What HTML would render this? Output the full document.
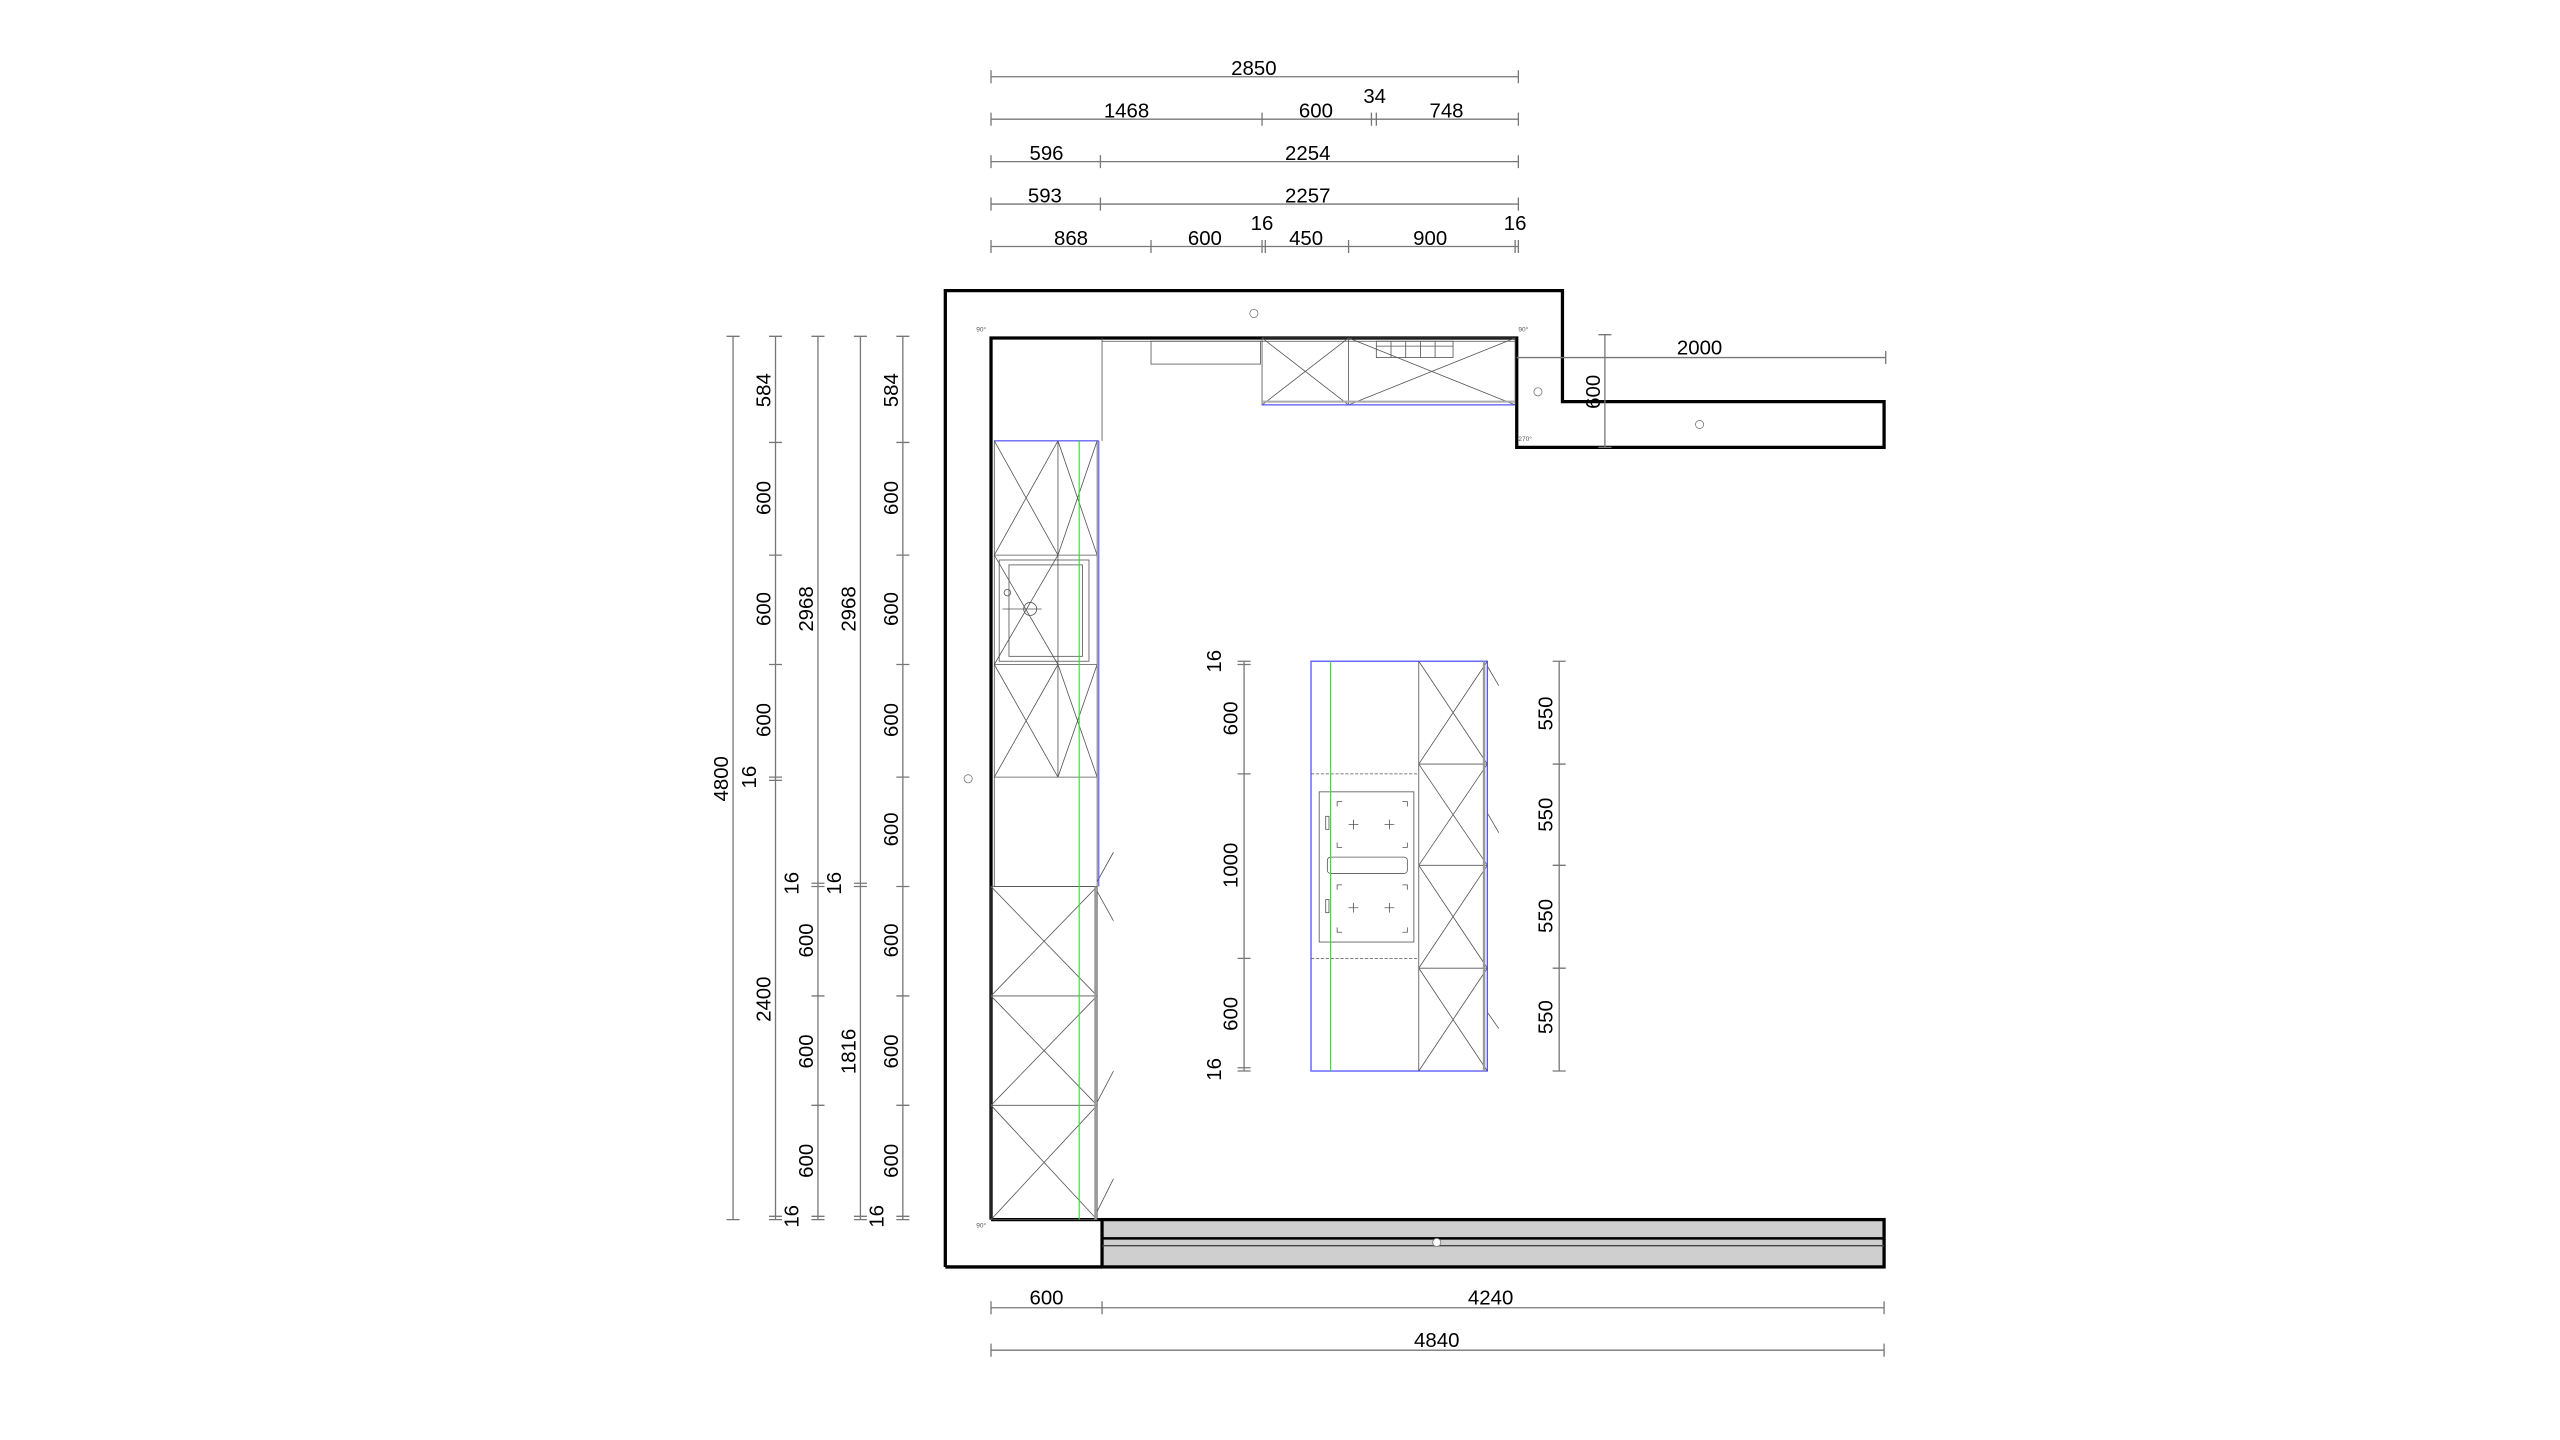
<!DOCTYPE html>
<html><head><meta charset="utf-8"><style>
html,body{margin:0;padding:0;background:#fff;}
svg{display:block;}
text{font-family:"Liberation Sans",sans-serif;font-size:12.5px;fill:#000;}
.d{stroke:#777;stroke-width:0.8;fill:none;}
.c{stroke:#555;stroke-width:0.5;fill:none;}
.w{stroke:#000;stroke-width:2;fill:none;}
text.s{font-size:4px;fill:#555;}
</style></head><body>
<svg width="2560" height="1440" viewBox="0 0 1568 882" xmlns="http://www.w3.org/2000/svg">
<rect width="1568" height="882" fill="#fff"/>
<!-- top dims -->
<g class="d">
<line x1="607" y1="47" x2="930" y2="47"/><line x1="607" y1="43" x2="607" y2="51"/><line x1="930" y1="43" x2="930" y2="51"/>
<line x1="607" y1="73" x2="930" y2="73"/>
<path d="M607 69v8M773 69v8M840 69v8M843 69v8M930 69v8"/>
<line x1="607" y1="99" x2="930" y2="99"/><path d="M607 95v8M674 95v8M930 95v8"/>
<line x1="607" y1="125" x2="930" y2="125"/><path d="M607 121v8M674 121v8M930 121v8"/>
<line x1="607" y1="151" x2="930" y2="151"/><path d="M607 147v8M705 147v8M773 147v8M775 147v8M826 147v8M928 147v8M930 147v8"/>
</g>
<g text-anchor="middle">
<text x="768" y="46">2850</text>
<text x="690" y="72">1468</text><text x="806" y="72">600</text><text x="842" y="63">34</text><text x="886" y="72">748</text>
<text x="641" y="98">596</text><text x="801" y="98">2254</text>
<text x="640" y="124">593</text><text x="801" y="124">2257</text>
<text x="656" y="150">868</text><text x="738" y="150">600</text><text x="773" y="141">16</text><text x="800" y="150">450</text><text x="876" y="150">900</text><text x="928" y="141">16</text>
</g>
<!-- walls -->
<polyline class="w" points="579,776 579,178 957,178 957,246 1154,246 1154,274 929,274 929,207 607,207 607,747"/>
<line class="w" x1="579" y1="776" x2="675" y2="776"/>
<rect x="675" y="747" width="479" height="29" fill="#cfcfcf" stroke="#000" stroke-width="2"/>
<line x1="675" y1="758.5" x2="1154" y2="758.5" stroke="#000" stroke-width="1.5"/>
<line x1="675" y1="763" x2="1154" y2="763" stroke="#444" stroke-width="0.8"/>
<line class="w" x1="607" y1="747" x2="675" y2="747"/>
<!-- left column -->
<g class="c">
<line x1="675" y1="207" x2="675" y2="270"/>
<rect x="609" y="270" width="63" height="273"/>
<line x1="648" y1="270" x2="648" y2="476"/>
<path d="M609 340H672M609 407H672M609 476H672"/>
<path d="M609 270L648 340M648 270L609 340M648 270L672 340M672 270L648 340"/>
<path d="M609 407L648 476M648 407L609 476M648 407L672 476M672 407L648 476"/>
<rect x="612" y="343" width="55" height="62"/><rect x="618" y="346" width="45" height="56"/>
<circle cx="631" cy="373" r="4"/><path d="M614 373h24"/><circle cx="617" cy="363" r="2"/>
<path d="M609 340L648 407M648 340L609 407"/>
<rect x="607" y="543" width="65" height="204"/>
<path d="M607 610H672M607 677H672"/>
<path d="M607 543L672 610M672 543L607 610M607 610L672 677M672 610L607 677M607 677L672 747M672 677L607 747"/>
<path d="M672 540L682 522M672 546L682 564M672 675L682 656M672 742L682 722"/>
</g>
<line x1="673" y1="270" x2="673" y2="543" stroke="#55f" stroke-width="0.7"/>
<line x1="609" y1="270" x2="673" y2="270" stroke="#55f" stroke-width="0.7"/>
<line x1="661" y1="270" x2="661" y2="747" stroke="#3d3" stroke-width="0.7"/>
<line x1="671" y1="543" x2="671" y2="747" stroke="#999" stroke-width="1.5"/>
<!-- top cabinets -->
<g class="c">
<line x1="675" y1="209" x2="928" y2="209"/>
<rect x="705" y="209" width="67" height="14"/>
<rect x="773" y="207" width="155" height="41"/>
<line x1="826" y1="207" x2="826" y2="248"/>
<path d="M773 207L826 248M826 207L773 248M826 207L928 248M928 207L826 248"/>
<rect x="843" y="209" width="47" height="10"/>
<path d="M852 209v10M861 209v10M870 209v10M879 209v10M843 212H890"/>
</g>
<line x1="773" y1="248" x2="928" y2="248" stroke="#55f" stroke-width="0.8"/>
<line x1="773" y1="246" x2="928" y2="246" stroke="#aaa" stroke-width="1.2"/>
<!-- 2000 / 600 dims -->
<g class="d"><line x1="929" y1="219" x2="1155" y2="219"/><path d="M1155 215v8"/>
<line x1="983" y1="205" x2="983" y2="274"/><path d="M979 205h8M979 274h8"/></g>
<text x="1041" y="217" text-anchor="middle">2000</text>
<text transform="rotate(-90 980 240)" x="980" y="240" text-anchor="middle">600</text>
<!-- island -->
<rect x="803" y="405" width="108" height="251" fill="none" stroke="#55f" stroke-width="0.8"/>
<g class="c">
<line x1="869" y1="405" x2="869" y2="656"/>
<path d="M869 468H911M869 530H911M869 593H911"/>
<path d="M869 405L911 468M911 405L869 468M869 468L911 530M911 468L869 530M869 530L911 593M911 530L869 593M869 593L911 656M911 593L869 656"/>
<path d="M803 474H869M803 587H869" stroke-dasharray="2 1"/>
<rect x="808" y="485" width="58" height="92"/>
<rect x="813" y="525" width="49" height="10" rx="2"/>
<path d="M826 505h6M829 502v6M848 505h6M851 502v6M826 556h6M829 553v6M848 556h6M851 553v6"/>
<path d="M819 494v-3h3M859 491h3v3M819 516v3h3M862 516v3h-3M819 545v-3h3M859 542h3v3M819 568v3h3M862 568v3h-3"/>
<rect x="812" y="500" width="2" height="8"/><rect x="812" y="551" width="2" height="8"/>
<path d="M911 408L918 420M911 498L918 510M911 620L918 630"/>
</g>
<line x1="815" y1="405" x2="815" y2="656" stroke="#3d3" stroke-width="0.7"/>
<line x1="909" y1="405" x2="909" y2="656" stroke="#999" stroke-width="1.5"/>
<g class="d"><line x1="762" y1="405" x2="762" y2="656"/><path d="M758 405h8M758 407h8M758 474h8M758 587h8M758 654h8M758 656h8"/>
<line x1="955" y1="405" x2="955" y2="656"/><path d="M951 405h8M951 468h8M951 530h8M951 593h8M951 656h8"/></g>
<g text-anchor="middle">
<text transform="rotate(-90 748 405)" x="748" y="405">16</text>
<text transform="rotate(-90 758 440)" x="758" y="440">600</text>
<text transform="rotate(-90 758 530)" x="758" y="530">1000</text>
<text transform="rotate(-90 758 621)" x="758" y="621">600</text>
<text transform="rotate(-90 748 655)" x="748" y="655">16</text>
<text transform="rotate(-90 951 437)" x="951" y="437">550</text>
<text transform="rotate(-90 951 499)" x="951" y="499">550</text>
<text transform="rotate(-90 951 561)" x="951" y="561">550</text>
<text transform="rotate(-90 951 623)" x="951" y="623">550</text>
</g>
<!-- left dims -->
<g class="d">
<line x1="449" y1="206" x2="449" y2="747"/><path d="M445 206h8M445 747h8"/>
<line x1="475" y1="206" x2="475" y2="747"/><path d="M471 206h8M471 271h8M471 340h8M471 407h8M471 476h8M471 478h8M471 745h8M471 747h8"/>
<line x1="501" y1="206" x2="501" y2="747"/><path d="M497 206h8M497 541h8M497 543h8M497 610h8M497 677h8M497 745h8M497 747h8"/>
<line x1="527" y1="206" x2="527" y2="747"/><path d="M523 206h8M523 541h8M523 543h8M523 745h8M523 747h8"/>
<line x1="553" y1="206" x2="553" y2="747"/><path d="M549 206h8M549 271h8M549 340h8M549 407h8M549 476h8M549 543h8M549 610h8M549 677h8M549 745h8M549 747h8"/>
</g>
<g text-anchor="middle">
<text transform="rotate(-90 446 477)" x="446" y="477">4800</text>
<text transform="rotate(-90 472 239)" x="472" y="239">584</text>
<text transform="rotate(-90 472 305)" x="472" y="305">600</text>
<text transform="rotate(-90 472 373)" x="472" y="373">600</text>
<text transform="rotate(-90 472 441)" x="472" y="441">600</text>
<text transform="rotate(-90 463 476)" x="463" y="476">16</text>
<text transform="rotate(-90 472 612)" x="472" y="612">2400</text>
<text transform="rotate(-90 489 745)" x="489" y="745">16</text>
<text transform="rotate(-90 498 373)" x="498" y="373">2968</text>
<text transform="rotate(-90 489 541)" x="489" y="541">16</text>
<text transform="rotate(-90 498 576)" x="498" y="576">600</text>
<text transform="rotate(-90 498 644)" x="498" y="644">600</text>
<text transform="rotate(-90 498 711)" x="498" y="711">600</text>
<text transform="rotate(-90 524 373)" x="524" y="373">2968</text>
<text transform="rotate(-90 515 541)" x="515" y="541">16</text>
<text transform="rotate(-90 524 644)" x="524" y="644">1816</text>
<text transform="rotate(-90 541 745)" x="541" y="745">16</text>
<text transform="rotate(-90 550 239)" x="550" y="239">584</text>
<text transform="rotate(-90 550 305)" x="550" y="305">600</text>
<text transform="rotate(-90 550 373)" x="550" y="373">600</text>
<text transform="rotate(-90 550 441)" x="550" y="441">600</text>
<text transform="rotate(-90 550 508)" x="550" y="508">600</text>
<text transform="rotate(-90 550 576)" x="550" y="576">600</text>
<text transform="rotate(-90 550 644)" x="550" y="644">600</text>
<text transform="rotate(-90 550 711)" x="550" y="711">600</text>
</g>
<!-- bottom dims -->
<g class="d"><line x1="607" y1="801" x2="1154" y2="801"/><path d="M607 797v8M675 797v8M1154 797v8"/>
<line x1="607" y1="827" x2="1154" y2="827"/><path d="M607 823v8M1154 823v8"/></g>
<g text-anchor="middle"><text x="641" y="799">600</text><text x="913" y="799">4240</text><text x="880" y="825">4840</text></g>
<!-- markers -->
<g fill="none" stroke="#777" stroke-width="0.5">
<circle cx="768" cy="192" r="2.5"/><circle cx="593" cy="477" r="2.5"/><circle cx="942" cy="240" r="2.5"/><circle cx="1041" cy="260" r="2.5"/><circle cx="880" cy="761" r="2.5" fill="#fff"/>
</g>
<text class="s" x="598" y="203">90°</text><text class="s" x="930" y="203">90°</text><text class="s" x="598" y="752">90°</text><text class="s" x="930" y="270">270°</text>
</svg>
</body></html>
